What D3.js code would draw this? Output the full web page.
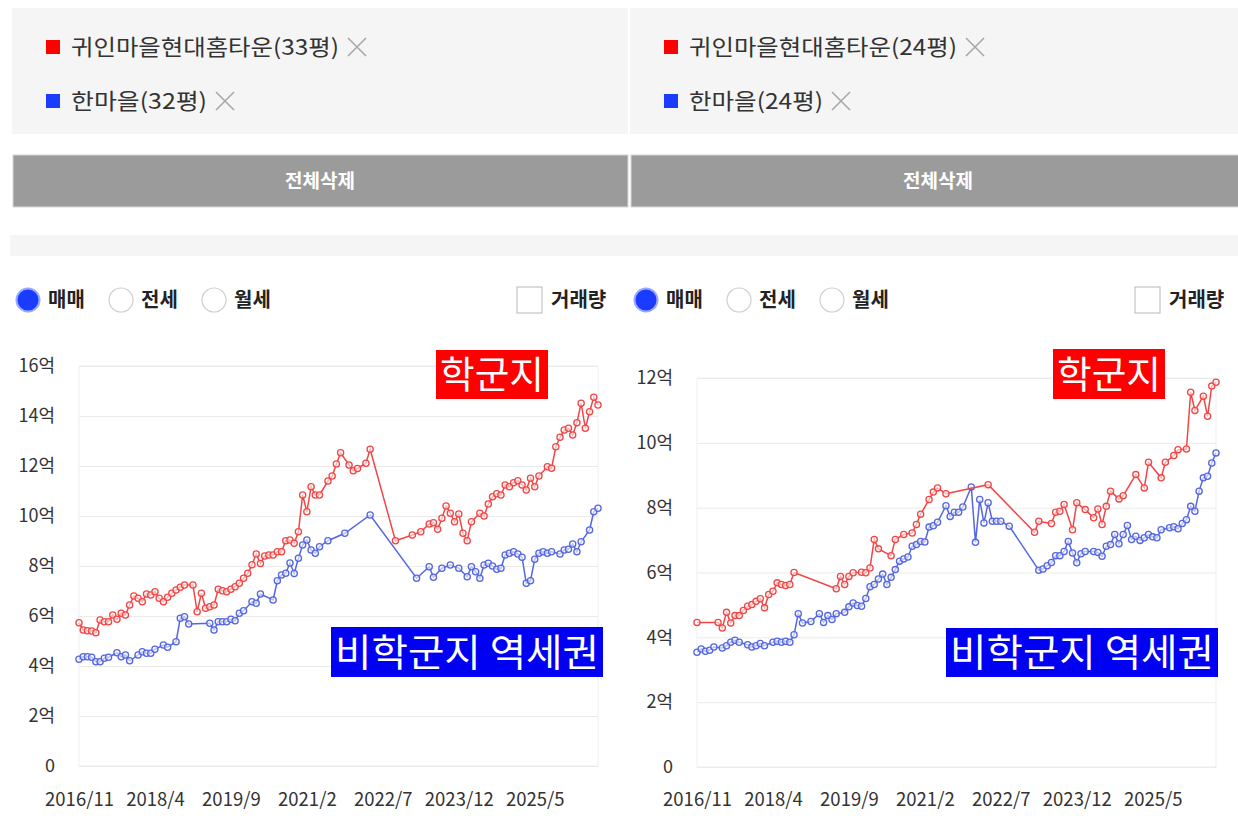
<!DOCTYPE html>
<html>
<head>
<meta charset="utf-8">
<script src="https://cdn.jsdelivr.net/npm/d3@7"></script>
<style>
  body { margin: 0; background: #fff; }
  svg text { font-family: "Noto Sans CJK KR", "Noto Sans", sans-serif; }
</style>
</head>
<body>
<div id="plot"></div>
<script>
// chart values (month index from 2016/11, price in 억)

const xTickMonths = [0, 18, 36, 54, 72, 90, 108];
const xTickLabels = ["2016/11", "2018/4", "2019/9", "2021/2", "2022/7", "2023/12", "2025/5"];
const leftYTicks = [0, 2, 4, 6, 8, 10, 12, 14, 16];
const rightYTicks = [0, 2, 4, 6, 8, 10, 12];
const leftNames = ["귀인마을현대홈타운(33평)", "한마을(32평)"];
const rightNames = ["귀인마을현대홈타운(24평)", "한마을(24평)"];
const tradeTypes = ["매매", "전세", "월세"];
const tagLabels = ["학군지", "비학군지 역세권"];

const leftRed = [[0,5.73],[1,5.44],[2,5.41],[3,5.40],[4,5.33],[5,5.84],[6,5.77],[7,5.77],[8,6.04],[9,5.87],
  [10,6.11],[11,6.04],[12,6.44],[13,6.80],[14,6.71],[15,6.57],[16,6.88],[17,6.84],[18,6.97],[19,6.71],
  [20,6.57],[21,6.75],[22,6.91],[23,7.04],[24,7.15],[25,7.24],[27,7.24],[28,6.17],[29,6.91],[30,6.31],
  [31,6.37],[32,6.44],[33,7.07],[34,7.01],[35,6.97],[36,7.07],[37,7.17],[38,7.31],[39,7.51],[40,7.71],
  [41,8.05],[42,8.48],[43,8.10],[44,8.40],[45,8.44],[46,8.44],[47,8.57],[48,8.57],[49,9.01],[50,9.04],
  [51,8.91],[52,9.37],[53,10.84],[54,10.17],[55,11.17],[56,10.84],[57,10.84],[59,11.40],[60,11.60],[61,12.08],
  [62,12.53],[64,12.04],[65,11.81],[66,11.90],[68,12.11],[69,12.67],[75,9.01],[79,9.24],[81,9.37],[83,9.68],
  [84,9.73],[85,9.47],[86,9.91],[87,10.40],[88,10.11],[89,9.77],[90,10.08],[91,9.31],[92,9.01],[93,9.77],
  [95,10.11],[96,10.00],[97,10.48],[98,10.77],[99,10.89],[100,10.84],[101,11.24],[102,11.17],[103,11.33],[104,11.41],
  [105,11.24],[106,11.04],[107,11.51],[108,11.17],[109,11.60],[111,11.97],[112,11.91],[113,12.77],[114,13.15],[115,13.44],
  [116,13.51],[117,13.24],[118,13.73],[119,14.51],[120,13.51],[121,14.17],[122,14.75],[123,14.44]];

const leftBlue = [[0,4.27],[1,4.37],[2,4.37],[3,4.35],[4,4.17],[5,4.17],[6,4.31],[7,4.35],[9,4.53],[10,4.37],
  [11,4.44],[12,4.21],[14,4.44],[15,4.57],[16,4.51],[17,4.51],[18,4.67],[20,4.84],[21,4.75],[23,4.97],
  [24,5.91],[25,5.97],[26,5.68],[31,5.71],[32,5.44],[33,5.77],[34,5.77],[35,5.77],[36,5.87],[37,5.81],
  [38,6.11],[39,6.21],[41,6.57],[42,6.51],[43,6.88],[46,6.64],[47,7.41],[48,7.64],[49,7.71],[50,8.12],
  [51,7.70],[52,8.31],[53,8.84],[54,9.04],[55,8.64],[56,8.51],[57,8.77],[59,9.01],[63,9.31],[69,10.04],
  [80,7.51],[83,7.97],[84,7.55],[86,7.91],[88,8.04],[90,7.91],[92,7.57],[93,7.97],[94,7.77],[95,7.51],
  [96,8.04],[97,8.11],[98,8.00],[99,7.87],[100,7.91],[101,8.44],[102,8.51],[103,8.57],[104,8.48],[105,8.35],
  [106,7.31],[107,7.41],[108,8.27],[109,8.51],[110,8.57],[111,8.51],[112,8.57],[114,8.48],[115,8.64],[116,8.67],
  [117,8.88],[118,8.57],[119,8.97],[121,9.44],[122,10.17],[123,10.31]];

const rightRed = [[0,4.46],[5,4.46],[6,4.29],[7,4.77],[8,4.44],[9,4.67],[10,4.67],[11,4.83],[12,4.96],[13,5.01],
  [14,5.11],[15,5.19],[16,4.91],[17,5.32],[18,5.42],[19,5.68],[20,5.63],[21,5.60],[22,5.63],[23,6.00],
  [33,5.50],[34,5.88],[35,5.63],[36,5.88],[37,5.99],[39,6.01],[40,5.99],[41,6.14],[42,7.02],[43,6.73],
  [46,6.52],[47,7.02],[49,7.17],[51,7.22],[52,7.48],[53,7.80],[55,8.25],[56,8.48],[57,8.61],[59,8.43],
  [69,8.71],[80,7.24],[81,7.58],[84,7.51],[85,7.86],[86,7.89],[87,8.10],[89,7.32],[90,8.15],[92,7.94],
  [94,7.69],[95,7.96],[96,7.48],[97,8.04],[98,8.51],[100,8.27],[101,8.37],[104,9.02],[106,8.61],[107,9.40],
  [110,8.92],[111,9.40],[113,9.61],[114,9.79],[116,9.81],[117,11.56],[118,11.00],[120,11.44],[121,10.82],[122,11.75],
  [123,11.87]];

const rightBlue = [[0,3.54],[1,3.64],[2,3.57],[3,3.60],[4,3.70],[6,3.67],[7,3.74],[8,3.85],[9,3.91],[10,3.85],
  [12,3.77],[13,3.70],[14,3.74],[15,3.81],[16,3.74],[18,3.85],[19,3.88],[20,3.85],[21,3.88],[22,3.85],
  [23,4.08],[24,4.73],[25,4.44],[27,4.49],[29,4.73],[30,4.46],[31,4.67],[32,4.55],[33,4.73],[35,4.77],
  [36,4.94],[37,5.06],[38,4.98],[39,4.96],[40,5.20],[41,5.56],[42,5.63],[43,5.80],[44,5.95],[45,5.63],
  [46,5.85],[47,6.09],[48,6.35],[49,6.42],[50,6.48],[51,6.81],[52,6.86],[53,6.96],[54,6.94],[55,7.40],
  [56,7.44],[57,7.55],[59,8.06],[60,7.73],[61,7.86],[62,7.86],[63,8.02],[65,8.64],[66,6.93],[67,8.25],
  [68,7.53],[69,8.15],[70,7.58],[71,7.58],[72,7.58],[74,7.43],[81,6.07],[82,6.11],[83,6.21],[84,6.31],
  [85,6.52],[86,6.52],[87,6.65],[88,6.96],[89,6.60],[90,6.30],[91,6.58],[92,6.65],[94,6.65],[95,6.62],
  [96,6.50],[97,6.81],[98,6.86],[99,7.17],[100,6.89],[101,7.17],[102,7.45],[103,7.02],[104,7.12],[105,6.99],
  [106,7.07],[107,7.17],[108,7.10],[109,7.07],[110,7.32],[112,7.38],[113,7.41],[114,7.35],[115,7.51],[116,7.63],
  [117,8.04],[118,7.89],[119,8.51],[120,8.92],[121,8.97],[122,9.38],[123,9.69]];

// layout

const w = 1238;
const h = 833;
const redLine = "#f24646";
const blueLine = "#5466e2";

const panels = [
  {offset: 0, names: leftNames, red: leftRed, blue: leftBlue, yTicks: leftYTicks,
    yTop: 366, yBottom: 766, nameWidths: [268, 136],
    redTag: {x: 436, y: 350, w: 112, h: 49}, blueTag: {x: 331, y: 627, w: 272, h: 50}},
  {offset: 618, names: rightNames, red: rightRed, blue: rightBlue, yTicks: rightYTicks,
    yTop: 378, yBottom: 767, nameWidths: [268, 134],
    redTag: {x: 435, y: 349, w: 112, h: 50}, blueTag: {x: 328, y: 628, w: 272, h: 49}}
];

const svg = d3.select("body")
  .select("div#plot")
  .append("svg")
  .attr("width", w)
  .attr("height", h);

svg.append("rect")
  .attr("width", w)
  .attr("height", h)
  .attr("fill", "#fff");

function drawPanel(p) {

  const g = svg.append("g")
    .attr("transform", `translate(${p.offset}, 0)`);

  // selected apartments box
  g.append("rect")
    .attr("x", 12).attr("y", 8)
    .attr("width", 616).attr("height", 126)
    .attr("fill", "#f5f5f5");

  const colors = ["#ff0000", "#1a3cff"];
  const rowY = [47, 101];

  p.names.forEach((name, i) => {
    g.append("rect")
      .attr("x", 46).attr("y", rowY[i] - 7)
      .attr("width", 14).attr("height", 14)
      .attr("fill", colors[i]);

    g.append("text")
      .attr("x", 71).attr("y", rowY[i])
      .attr("dy", "0.36em")
      .attr("font-size", 22)
      .attr("fill", "#333")
      .attr("textLength", p.nameWidths[i])
      .attr("lengthAdjust", "spacingAndGlyphs")
      .text(name);

    // close icon
    const cx = 71 + p.nameWidths[i] + 18;
    g.append("path")
      .attr("d", `M${cx - 9},${rowY[i] - 9}L${cx + 9},${rowY[i] + 9}M${cx + 9},${rowY[i] - 9}L${cx - 9},${rowY[i] + 9}`)
      .attr("stroke", "#a8a8a8")
      .attr("stroke-width", 1.6)
      .attr("fill", "none");
  });

  // delete all button
  g.append("rect")
    .attr("x", 13).attr("y", 155)
    .attr("width", 615).attr("height", 52)
    .attr("fill", "#9b9b9b")
    .attr("stroke", "#d8d8d8");

  g.append("text")
    .attr("x", 320).attr("y", 181)
    .attr("dy", "0.36em")
    .attr("text-anchor", "middle")
    .attr("font-size", 19)
    .attr("font-weight", "bold")
    .attr("fill", "#fff")
    .text("전체삭제");

  g.append("rect")
    .attr("x", 10).attr("y", 235)
    .attr("width", 618).attr("height", 21)
    .attr("fill", "#f5f5f5");

  // radio buttons
  const radioX = [28, 121, 214];
  tradeTypes.forEach((t, i) => {
    g.append("circle")
      .attr("cx", radioX[i]).attr("cy", 300)
      .attr("r", i === 0 ? 11.5 : 12)
      .attr("fill", i === 0 ? "#1a3cff" : "#fff")
      .attr("stroke", i === 0 ? "#9aa8ff" : "#cfcfcf")
      .attr("stroke-width", i === 0 ? 2 : 1.2);

    g.append("text")
      .attr("x", radioX[i] + 20).attr("y", 300)
      .attr("dy", "0.36em")
      .attr("font-size", 20)
      .attr("font-weight", "bold")
      .attr("fill", "#222")
      .text(t);
  });

  g.append("rect")
    .attr("x", 517).attr("y", 287)
    .attr("width", 25).attr("height", 26)
    .attr("fill", "#fff")
    .attr("stroke", "#b8b8b8");

  g.append("text")
    .attr("x", 551).attr("y", 300)
    .attr("dy", "0.36em")
    .attr("font-size", 20)
    .attr("font-weight", "bold")
    .attr("fill", "#222")
    .text("거래량");

  // scales
  const xScale = d3.scaleLinear()
    .domain([0, 123])
    .range([79, 598]);

  const yScale = d3.scaleLinear()
    .domain([0, d3.max(p.yTicks)])
    .range([p.yBottom, p.yTop]);

  // plot frame
  g.append("rect")
    .attr("x", 79).attr("y", p.yTop)
    .attr("width", 519).attr("height", p.yBottom - p.yTop)
    .attr("fill", "none")
    .attr("stroke", "#efefef");

  const yAxis = d3.axisLeft(yScale)
    .tickValues(p.yTicks)
    .tickSize(-519)
    .tickPadding(24)
    .tickFormat(d => d === 0 ? "0" : d + "억");

  const yg = g.append("g")
    .attr("class", "yAxis")
    .attr("transform", "translate(79, 0)")
    .call(yAxis);

  yg.select(".domain").remove();
  yg.selectAll(".tick line").attr("stroke", "#ebebeb");
  yg.selectAll("text")
    .attr("font-size", 18)
    .attr("fill", "#333")
    .style("font-family", "\"Noto Sans CJK KR\", sans-serif");

  const xAxis = d3.axisBottom(xScale)
    .tickValues(xTickMonths)
    .tickSize(0)
    .tickPadding(806 - p.yBottom - 13)
    .tickFormat((d, i) => xTickLabels[i]);

  const xg = g.append("g")
    .attr("class", "xAxis")
    .attr("transform", `translate(0, ${p.yBottom})`)
    .call(xAxis);

  xg.select(".domain").remove();
  xg.selectAll("text")
    .attr("font-size", 18.5)
    .attr("fill", "#333")
    .style("font-family", "\"Noto Sans CJK KR\", sans-serif");

  // price lines
  const line = d3.line()
    .x(d => xScale(d[0]))
    .y(d => yScale(d[1]));

  [[p.blue, blueLine], [p.red, redLine]].forEach(([data, color]) => {
    g.append("path")
      .datum(data)
      .attr("d", line)
      .attr("fill", "none")
      .attr("stroke", color)
      .attr("stroke-width", 1.5);

    g.append("g")
      .selectAll("circle")
      .data(data)
      .enter().append("circle")
      .attr("cx", d => xScale(d[0]))
      .attr("cy", d => yScale(d[1]))
      .attr("r", 3.1)
      .attr("fill", "#fff")
      .attr("fill-opacity", 0.6)
      .attr("stroke", color)
      .attr("stroke-width", 1.3);
  });

  // overlay tags
  const tags = [[p.redTag, "#ff0000", tagLabels[0]], [p.blueTag, "#0000f2", tagLabels[1]]];
  tags.forEach(([t, fill, label]) => {
    g.append("rect")
      .attr("x", t.x).attr("y", t.y)
      .attr("width", t.w).attr("height", t.h)
      .attr("fill", fill);

    g.append("text")
      .attr("x", t.x + t.w / 2).attr("y", t.y + t.h / 2)
      .attr("dy", "0.36em")
      .attr("text-anchor", "middle")
      .attr("font-size", 38)
      .attr("fill", "#fff")
      .attr("textLength", t.w - 8)
      .attr("lengthAdjust", "spacingAndGlyphs")
      .text(label);
  });
}

panels.forEach(drawPanel);
</script>
</body>
</html>
